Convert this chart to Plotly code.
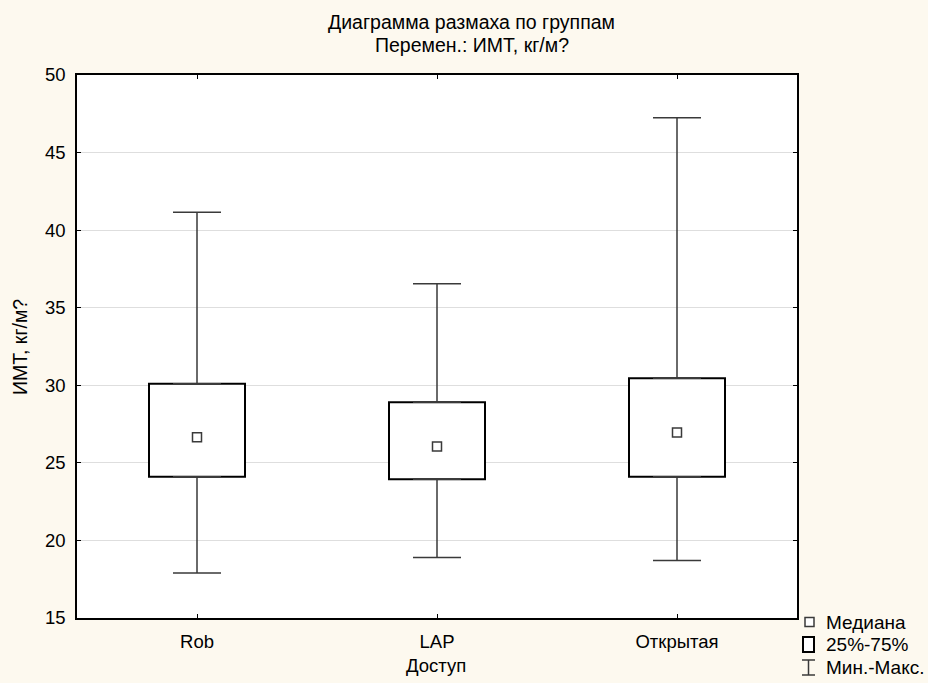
import plotly.graph_objects as go

# Group statistics of BMI by access type
groups = ["Rob", "LAP", "Открытая"]
q1 = [24.1, 23.95, 24.1]
median = [26.65, 26.05, 26.95]
q3 = [30.1, 28.9, 30.45]
vmin = [17.9, 18.9, 18.7]
vmax = [41.15, 36.55, 47.25]

W, H = 928, 683
L, R, T, B = 77, 797, 75, 618
FONT = "Liberation Sans, Arial, sans-serif"
INK = "#000000"
WHISK = "#3a3a3a"

xpos = list(range(len(groups)))


def px(x):
    return (x - L) / (R - L)


def py(y):
    return (B - y) / (B - T)


fig = go.Figure()

# interquartile boxes
fig.add_trace(go.Bar(
    x=xpos, y=[b - a for a, b in zip(q1, q3)], base=q1, width=0.4,
    marker=dict(color="white", line=dict(color=INK, width=2)),
    hoverinfo="skip", showlegend=False,
))

# upper whiskers from Q3 to max
fig.add_trace(go.Scatter(
    x=xpos, y=q3, mode="markers", marker=dict(size=1, opacity=0),
    error_y=dict(type="data", symmetric=False,
                 array=[b - a for a, b in zip(q3, vmax)],
                 arrayminus=[0] * len(groups),
                 color=WHISK, thickness=1.5, width=24),
    hoverinfo="skip", showlegend=False,
))

# lower whiskers from Q1 down to min
fig.add_trace(go.Scatter(
    x=xpos, y=q1, mode="markers", marker=dict(size=1, opacity=0),
    error_y=dict(type="data", symmetric=False,
                 array=[0] * len(groups),
                 arrayminus=[a - b for a, b in zip(q1, vmin)],
                 color=WHISK, thickness=1.5, width=24),
    hoverinfo="skip", showlegend=False,
))

# medians
fig.add_trace(go.Scatter(
    x=xpos, y=median, mode="markers",
    marker=dict(symbol="square-open", size=9, color=WHISK, line=dict(width=1.5)),
    showlegend=False,
))

shapes = []
annotations = []


def label(text, x, y, size=18, xanchor="center", angle=0):
    annotations.append(dict(text=text, x=px(x), y=py(y), xref="paper", yref="paper",
                            xanchor=xanchor, yanchor="middle", showarrow=False,
                            textangle=angle, font=dict(size=size, family=FONT, color=INK)))


# titles
label("Диаграмма размаха по группам", 471, 22, size=19.5)
label("Перемен.: ИМТ, кг/м?", 472, 45, size=19.5)

# axis titles
label("Доступ", 436, 665, size=18.5)
label("ИМТ, кг/м?", 20, 347, size=19.5, angle=-90)

# legend block
for text, yc in [("Медиана", 622), ("25%-75%", 644.5), ("Мин.-Макс.", 667)]:
    label(text, 824, yc, size=19, xanchor="left")
shapes.append(dict(type="rect", xref="paper", yref="paper",
                   x0=px(805), x1=px(814), y0=py(626.5), y1=py(617.5),
                   line=dict(color=WHISK, width=1.5), fillcolor="white"))
shapes.append(dict(type="rect", xref="paper", yref="paper",
                   x0=px(803), x1=px(814), y0=py(652), y1=py(637),
                   line=dict(color=INK, width=2), fillcolor="white"))
for x0, y0, x1, y1 in [(802, 660, 815, 660), (802, 675, 815, 675), (808.5, 660, 808.5, 675)]:
    shapes.append(dict(type="line", xref="paper", yref="paper",
                       x0=px(x0), x1=px(x1), y0=py(y0), y1=py(y1),
                       line=dict(color=WHISK, width=1.5)))

fig.update_layout(
    width=W, height=H,
    margin=dict(l=L, r=W - R, t=T, b=H - B),
    paper_bgcolor="#fdf9ef",
    plot_bgcolor="white",
    font=dict(family=FONT, size=18, color=INK),
    shapes=shapes,
    annotations=annotations,
    barmode="overlay",
    showlegend=False,
)

fig.update_xaxes(
    range=[-0.5, 2.5], tickvals=xpos, ticktext=groups,
    showline=True, linecolor=INK, linewidth=1.5, mirror="ticks",
    ticks="inside", ticklen=4, tickcolor=INK, showgrid=False, zeroline=False,
    tickfont=dict(size=18.5), ticklabelstandoff=6,
)
fig.update_yaxes(
    range=[15, 50], dtick=5, tick0=15,
    showline=True, linecolor=INK, linewidth=1.5, mirror="ticks",
    ticks="inside", ticklen=4, tickcolor=INK,
    showgrid=True, gridcolor="#dedede", gridwidth=1, zeroline=False,
    tickfont=dict(size=18.5), ticklabelstandoff=6,
)

fig.write_html("out.html")
